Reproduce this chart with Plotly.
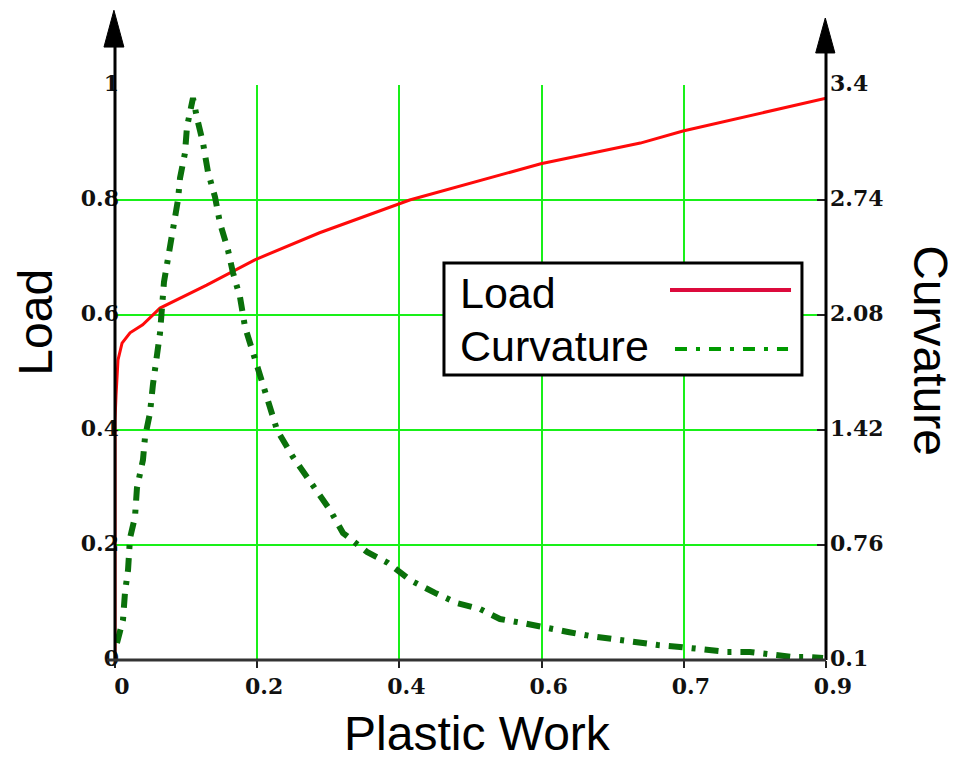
import plotly.graph_objects as go

# ---------------- data ----------------
load_x = [0, 0, 0.0013, 0.0038, 0.0089, 0.019, 0.035, 0.057, 0.116, 0.177, 0.259,
          0.373, 0.539, 0.665, 0.719, 0.896, 0.9]
load_y = [0, 0.417, 0.461, 0.522, 0.551, 0.569, 0.583, 0.612, 0.652, 0.696, 0.743,
          0.8, 0.863, 0.899, 0.92, 0.976, 0.977]

curv_x = [0.0025, 0.0101, 0.0127, 0.0165, 0.019, 0.0253, 0.0278, 0.0354, 0.038, 0.0443,
          0.0481, 0.057, 0.062, 0.0734, 0.0797, 0.0823, 0.0886, 0.0911, 0.0962, 0.0987,
          0.1038, 0.1114, 0.1177, 0.1266, 0.1329, 0.143, 0.1494, 0.1582, 0.1646, 0.1747,
          0.1835, 0.1924, 0.2051, 0.2253, 0.2468, 0.2722, 0.2886, 0.319, 0.3456, 0.3734,
          0.4051, 0.4329, 0.462, 0.4873, 0.5165, 0.5468, 0.5734, 0.6013, 0.6304, 0.6608,
          0.6873, 0.7152, 0.7443, 0.7747, 0.8038, 0.8329, 0.8582, 0.8797, 0.8962]
curv_y = [0.198, 0.33, 0.49, 0.617, 0.8, 0.921, 1.087, 1.248, 1.38, 1.518,
          1.684, 1.977, 2.269, 2.568, 2.74, 2.866, 3.01, 3.159, 3.297, 3.325,
          3.211, 3.067, 2.901, 2.757, 2.608, 2.453, 2.321, 2.183, 2.011, 1.862,
          1.724, 1.592, 1.42, 1.265, 1.127, 0.961, 0.829, 0.72, 0.657, 0.559,
          0.485, 0.427, 0.393, 0.335, 0.312, 0.289, 0.261, 0.238, 0.221, 0.198,
          0.186, 0.175, 0.163, 0.146, 0.146, 0.129, 0.117, 0.117, 0.111]

x_tickvals = [0, 0.18, 0.36, 0.54, 0.72, 0.9]
x_ticktext = ["0", "0.2", "0.4", "0.6", "0.7", "0.9"]
y_tickvals = [0, 0.2, 0.4, 0.6, 0.8, 1]
y_ticktext = ["0", "0.2", "0.4", "0.6", "0.8", "1"]
y2_tickvals = [0.1, 0.76, 1.42, 2.08, 2.74, 3.4]
y2_ticktext = ["0.1", "0.76", "1.42", "2.08", "2.74", "3.4"]

series_names = ["Load", "Curvature"]
x_title = "Plastic Work"

# ---------------- styles ----------------
GRID = "#19f019"
TICKFONT = dict(family="DejaVu Serif", size=22, color="#111111", weight="bold")
TITLEFONT = dict(family="Liberation Sans, Arial", size=48, color="black")
LEGFONT = dict(family="Liberation Sans, Arial", size=43, color="black")

fig = go.Figure()
fig.add_trace(go.Scatter(x=load_x, y=load_y, mode="lines", name=series_names[0],
                         line=dict(color="#ff0a0a", width=3), yaxis="y"))
fig.add_trace(go.Scatter(x=curv_x, y=curv_y, mode="lines", name=series_names[1],
                         line=dict(color="#0a700a", width=6, dash="14px,9px,4px,9px"),
                         yaxis="y2"))

# page body has an 8px margin: figure is placed at (8, 8)
fig.update_layout(
    width=948, height=752,
    margin=dict(l=107, r=130, t=77, b=100),
    paper_bgcolor="white", plot_bgcolor="white",
    showlegend=False,
    xaxis=dict(range=[0, 0.9], tickvals=x_tickvals, ticktext=x_ticktext,
               showgrid=True, gridcolor=GRID, gridwidth=2, zeroline=False,
               showline=False, ticks="outside", ticklen=7, tickwidth=2,
               tickcolor="#222", tickfont=TICKFONT, ticklabelshift=7),
    yaxis=dict(range=[0, 1], tickvals=y_tickvals, ticktext=y_ticktext,
               showgrid=True, gridcolor=GRID, gridwidth=2, zeroline=False,
               showline=False, ticks="", tickfont=TICKFONT,
               ticklabelstandoff=-5, ticklabelshift=-2),
    yaxis2=dict(range=[0.1, 3.4], tickvals=y2_tickvals, ticktext=y2_ticktext,
                overlaying="y", side="right", showgrid=False, zeroline=False,
                showline=False, ticks="inside", ticklen=9, tickwidth=2,
                tickcolor="#222", tickfont=TICKFONT, ticklabelstandoff=3,
                ticklabelshift=-2),
)

shapes = []
# axes lines
shapes.append(dict(type="line", xref="paper", yref="paper", x0=0, x1=0, y0=0, y1=1.07,
                   line=dict(color="black", width=3), layer="above"))
shapes.append(dict(type="line", xref="paper", yref="paper", x0=1, x1=1, y0=0, y1=1.06,
                   line=dict(color="black", width=3), layer="above"))
shapes.append(dict(type="line", xref="paper", yref="paper", x0=-0.011, x1=1, y0=0, y1=0,
                   line=dict(color="#333333", width=3), layer="above"))
# arrow heads
shapes.append(dict(type="path", xref="paper", yref="paper",
                   path="M -0.0155,1.066 L 0.0125,1.066 L -0.0015,1.130 Z",
                   fillcolor="black", line=dict(color="black", width=1), layer="above"))
shapes.append(dict(type="path", xref="paper", yref="paper",
                   path="M 0.9855,1.0557 L 1.0125,1.0557 L 0.999,1.1165 Z",
                   fillcolor="black", line=dict(color="black", width=1), layer="above"))
# legend box
shapes.append(dict(type="rect", xref="paper", yref="paper", x0=0.4627, x1=0.9662,
                   y0=0.4957, y1=0.6904, fillcolor="white",
                   line=dict(color="black", width=3), layer="above"))
shapes.append(dict(type="line", xref="paper", yref="paper", x0=0.7806, x1=0.9508,
                   y0=0.6435, y1=0.6435, line=dict(color="#dc0a3c", width=4),
                   layer="above"))
shapes.append(dict(type="line", xref="paper", yref="paper", x0=0.7876, x1=0.9466,
                   y0=0.5409, y1=0.5409,
                   line=dict(color="#009a00", width=4, dash="12px,9px,4px,9px"),
                   layer="above"))
fig.update_layout(shapes=shapes)

annotations = [
    dict(text=series_names[0], xref="paper", yref="paper", x=0.4824, y=0.6383,
         xanchor="left", yanchor="middle", showarrow=False, font=LEGFONT),
    dict(text=series_names[1], xref="paper", yref="paper", x=0.4824, y=0.5461,
         xanchor="left", yanchor="middle", showarrow=False, font=LEGFONT),
    dict(text=x_title, xref="paper", yref="paper", x=0.5105, y=-0.128,
         xanchor="center", yanchor="middle", showarrow=False, font=TITLEFONT),
    dict(text=series_names[0], xref="paper", yref="paper", x=-0.113, y=0.5878,
         xanchor="center", yanchor="middle", showarrow=False, font=TITLEFONT,
         textangle=-90),
    dict(text=series_names[1], xref="paper", yref="paper", x=1.146, y=0.5374,
         xanchor="center", yanchor="middle", showarrow=False, font=TITLEFONT,
         textangle=90),
]
fig.update_layout(annotations=annotations)

fig.write_html("out.html")
